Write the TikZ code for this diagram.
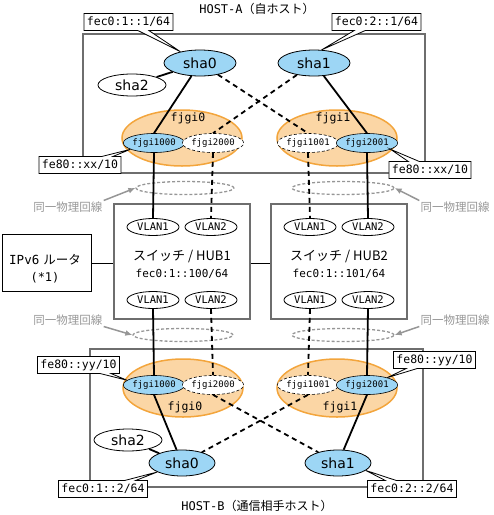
\documentclass[tikz,border=0pt]{standalone}
\usepackage{fontspec}
\setmainfont{DejaVu Sans}
\newfontfamily\jp{Noto Sans CJK JP}
\newfontfamily\mono{DejaVu Sans Mono}
\usetikzlibrary{shapes.geometric,shapes.callouts,arrows.meta}
\definecolor{shablue}{RGB}{157,214,245}
\definecolor{orfill}{RGB}{251,214,165}
\definecolor{ordraw}{RGB}{243,165,60}
\definecolor{frame}{RGB}{110,110,110}
\definecolor{lgray}{RGB}{150,150,150}
\begin{document}
\begin{tikzpicture}[x=1pt,y=-1pt,
  hostframe/.style={draw=frame,line width=1.2pt},
  shanode/.style={ellipse,draw=black,line width=0.8pt,inner sep=0pt,minimum width=72pt,minimum height=26pt,font=\fontsize{14}{14}\selectfont},
  shab/.style={shanode,fill=shablue},
  shaw/.style={shanode,fill=white,minimum width=68pt,minimum height=22pt},
  grp/.style={ellipse,draw=ordraw,fill=orfill,line width=1.5pt,inner sep=0pt,minimum width=120pt,minimum height=56pt},
  grplbl/.style={font=\mono\fontsize{11.5}{11.5}\selectfont},
  phys/.style={ellipse,inner sep=0pt,minimum width=54pt,minimum height=19pt,font=\mono\fontsize{9}{9}\selectfont},
  physb/.style={phys,draw=black,line width=0.6pt,fill=shablue},
  physw/.style={phys,draw=black,line width=0.6pt,fill=white,dashed,dash pattern=on 3pt off 2pt},
  vlan/.style={ellipse,draw=black,line width=0.8pt,fill=white,inner sep=0pt,minimum width=52pt,minimum height=17pt,font=\mono\fontsize{10.5}{10.5}\selectfont},
  hub/.style={rectangle,draw=frame,line width=1.2pt,minimum width=136pt,minimum height=115pt,inner sep=0pt},
  addr/.style={rectangle callout,draw=black,fill=white,line width=0.8pt,inner xsep=3pt,inner ysep=0pt,minimum height=17pt,callout pointer width=11pt,font=\mono\fontsize{11.5}{11.5}\selectfont},
  solidlink/.style={draw=black,line width=1.8pt},
  dashlink/.style={draw=black,line width=1.8pt,dash pattern=on 5pt off 4pt},
  sameline/.style={ellipse,draw=lgray,line width=1.3pt,dash pattern=on 3pt off 2pt,inner sep=0pt,minimum width=98pt,minimum height=13pt},
  samelbl/.style={text=lgray,font=\jp\fontsize{11.5}{11.5}\selectfont,inner sep=1pt},
  grayarrow/.style={draw=lgray,line width=1.5pt,-{Latex[length=7pt,width=6pt]}},
  title/.style={font=\fontsize{12}{12}\selectfont}
]
\useasboundingbox (0,0) rectangle (494,515);
% frames
\node[title] (titleA) at (257,9) {{\mono HOST-A}{\jp （自ホスト）}};
\node[title] (titleB) at (257,506) {{\mono HOST-B}{\jp （通信相手ホスト）}};
\draw[hostframe] (83,34) rectangle (425,173);
\draw[hostframe] (90,349) rectangle (423,487);

% ---------- HOST-A ----------
\node[grp] (fjgi0A) at (182,138) {};
\node[grp] (fjgi1A) at (337,138) {};
\node[grplbl] (l0A) at (188,118) {fjgi0};
\node[grplbl] (l1A) at (333,118) {fjgi1};
\node[physb] (p1000A) at (154,143) {fjgi1000};
\node[physw] (p2000A) at (213,143) {fjgi2000};
\node[physw] (p1001A) at (308,143) {fjgi1001};
\node[physb] (p2001A) at (367,143) {fjgi2001};
\node[shab] (sha0A) at (200,63) {sha0};
\node[shab] (sha1A) at (314,63) {sha1};
\node[shaw] (sha2A) at (132,85) {sha2};
\draw[solidlink] (sha0A) -- (sha2A);
\draw[solidlink] (sha0A) -- (p1000A.north);
\draw[solidlink] (sha1A) -- (p2001A.north);
\draw[dashlink] (sha0A) -- (p1001A.north);
\draw[dashlink] (sha1A) -- (p2000A.north);

% ---------- HOST-B ----------
\node[grp,minimum height=58pt] (fjgi0B) at (183,388) {};
\node[grp,minimum height=58pt] (fjgi1B) at (337,388) {};
\node[grplbl] (l0B) at (185,407) {fjgi0};
\node[grplbl] (l1B) at (340,407) {fjgi1};
\node[physb] (p1000B) at (154,385) {fjgi1000};
\node[physw] (p2000B) at (213,385) {fjgi2000};
\node[physw] (p1001B) at (308,385) {fjgi1001};
\node[physb] (p2001B) at (367,385) {fjgi2001};
\node[shab,minimum width=66pt] (sha0B) at (182,463) {sha0};
\node[shab,minimum width=66pt] (sha1B) at (338,463) {sha1};
\node[shaw] (sha2B) at (128,440) {sha2};
\draw[solidlink] (sha0B) -- (sha2B);
\draw[solidlink] (p1000B.south) -- (sha0B);
\draw[solidlink] (p2001B.south) -- (sha1B);
\draw[dashlink] (p2000B.south) -- (sha1B);
\draw[dashlink] (p1001B.south) -- (sha0B);

% ---------- switches ----------
\node[hub] (hub1) at (182,261.5) {};
\node[hub] (hub2) at (339,261.5) {};
\node[rectangle,draw=black,line width=0.8pt,minimum width=89pt,minimum height=57pt,inner sep=0pt] (router) at (46.5,263) {};
\node[font=\fontsize{12.5}{12.5}\selectfont] (rt1) at (45,260) {{\mono IPv6} {\jp ルータ}};
\node[font=\mono\fontsize{12}{12}\selectfont] (rt2) at (45,278) {(*1)};
\node[font=\jp\fontsize{13}{13}\selectfont] (h1t) at (182,256) {スイッチ / HUB1};
\node[font=\mono\fontsize{11}{11}\selectfont] (h1a) at (182,274) {fec0:1::100/64};
\node[font=\jp\fontsize{13}{13}\selectfont] (h2t) at (339,256) {スイッチ / HUB2};
\node[font=\mono\fontsize{11}{11}\selectfont] (h2a) at (339,274) {fec0:1::101/64};
\node[vlan] (v1a) at (153,227) {VLAN1};
\node[vlan] (v2a) at (211,227) {VLAN2};
\node[vlan] (v1b) at (153,300) {VLAN1};
\node[vlan] (v2b) at (211,300) {VLAN2};
\node[vlan] (v3a) at (310,227) {VLAN1};
\node[vlan] (v4a) at (368,227) {VLAN2};
\node[vlan] (v3b) at (310,300) {VLAN1};
\node[vlan] (v4b) at (368,300) {VLAN2};
\draw[line width=0.9pt] (router.east |- 0,263) -- (hub1.west |- 0,263);
\draw[line width=0.9pt] (hub1.east |- 0,263) -- (hub2.west |- 0,263);

% same physical line markers
\node[sameline] (sUL) at (185,188) {};
\node[sameline,minimum width=102pt] (sUR) at (343,188) {};
\node[sameline,minimum width=100pt] (sLL) at (183,335) {};
\node[sameline,minimum width=102pt] (sLR) at (343,335) {};
\node[samelbl] (tUL) at (68,207) {同一物理回線};
\node[samelbl] (tUR) at (455,207) {同一物理回線};
\node[samelbl] (tLL) at (68,320) {同一物理回線};
\node[samelbl] (tLR) at (455,320) {同一物理回線};
\draw[grayarrow] (tUL.north east) -- (sUL.west);
\draw[grayarrow] (tUR.north west) -- (sUR.east);
\draw[grayarrow] (tLL.south east) -- (sLL.west);
\draw[grayarrow] (tLR.south west) -- (sLR.east);

% vertical links
\draw[solidlink] (p1000A.south) -- (v1a.north);
\draw[dashlink] (p2000A.south) -- (v2a.north);
\draw[dashlink] (p1001A.south) -- (v3a.north);
\draw[solidlink] (p2001A.south) -- (v4a.north);
\draw[solidlink] (v1b.south) -- (p1000B.north);
\draw[dashlink] (v2b.south) -- (p2000B.north);
\draw[dashlink] (v3b.south) -- (p1001B.north);
\draw[solidlink] (v4b.south) -- (p2001B.north);

% address callouts
\node[addr,callout absolute pointer={(sha0A.150)}] (cA1) at (128.5,22) {fec0:1::1/64};
\node[addr,callout absolute pointer={(sha1A.60)}] (cA2) at (376.5,22) {fec0:2::1/64};
\node[addr,callout absolute pointer={(p1000A.195)}] (cA3) at (80,165) {fe80::xx/10};
\node[addr,callout absolute pointer={(p2001A.-15)}] (cA4) at (430,170) {fe80::xx/10};
\node[addr,callout absolute pointer={(p1000B.170)}] (cB1) at (78.5,365) {fe80::yy/10};
\node[addr,callout absolute pointer={(p2001B.20)}] (cB2) at (434.5,360) {fe80::yy/10};
\node[addr,callout absolute pointer={(sha0B.200)}] (cB3) at (103,489) {fec0:1::2/64};
\node[addr,callout absolute pointer={(sha1B.-15)}] (cB4) at (412,489) {fec0:2::2/64};
\end{tikzpicture}
\end{document}
